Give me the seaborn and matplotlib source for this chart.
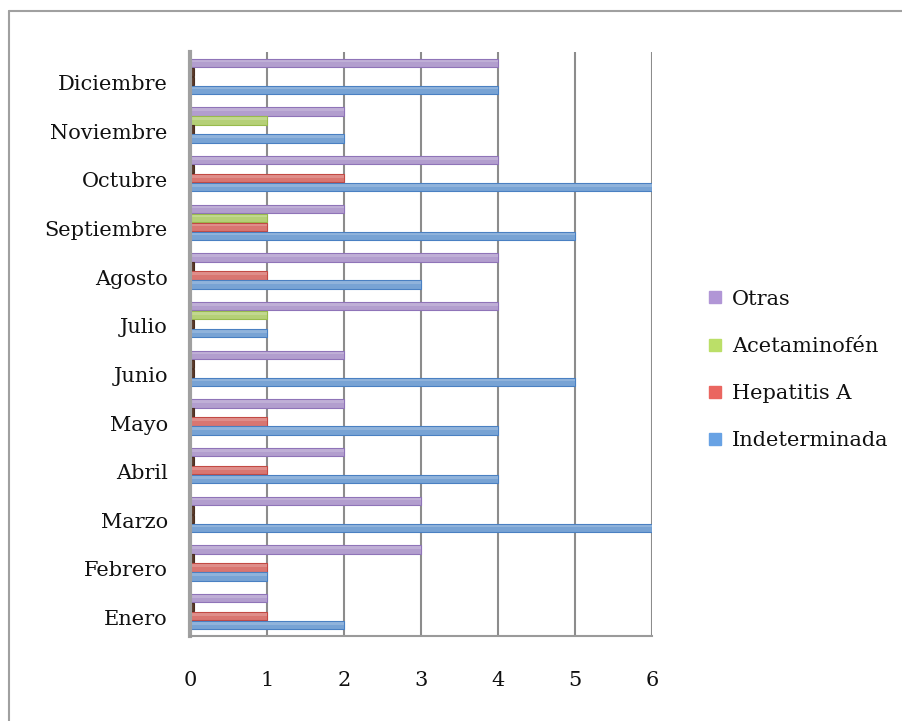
import matplotlib
matplotlib.use("Agg")
import matplotlib.pyplot as plt
import matplotlib.transforms as mtransforms
from matplotlib.lines import Line2D
from matplotlib.patches import Rectangle
import numpy as np
import pandas as pd
import seaborn as sns

meses = ["Enero", "Febrero", "Marzo", "Abril", "Mayo", "Junio", "Julio",
         "Agosto", "Septiembre", "Octubre", "Noviembre", "Diciembre"]
indeterminada = [2, 1, 6, 4, 4, 5, 1, 3, 5, 6, 2, 4]
hepatitis_a = [1, 1, 0, 1, 1, 0, 0, 1, 1, 2, 0, 0]
acetaminofen = [0, 0, 0, 0, 0, 0, 1, 0, 1, 0, 1, 0]
otras = [1, 3, 3, 2, 2, 2, 4, 4, 2, 4, 2, 4]
x_ticks = [0, 1, 2, 3, 4, 5, 6]

series = {
    "Otras": otras,
    "Acetaminofén": acetaminofen,
    "Hepatitis A": hepatitis_a,
    "Indeterminada": indeterminada,
}
colores = {
    "Otras": "#b196d6",
    "Acetaminofén": "#bbdf68",
    "Hepatitis A": "#ea6660",
    "Indeterminada": "#68a2e4",
}
bordes = {
    "Otras": "#8f74b8",
    "Acetaminofén": "#98bb4c",
    "Hepatitis A": "#c24a44",
    "Indeterminada": "#4a80c2",
}

df = pd.DataFrame(
    [(m, s, v) for s, vals in series.items() for m, v in zip(meses, vals)],
    columns=["Mes", "Causa", "Casos"],
)

sns.set_style("white")
plt.rcParams["font.family"] = ["DejaVu Serif"]

fig = plt.figure(figsize=(9.02, 7.21), dpi=100)
ax = fig.add_axes([190 / 902, 1 - 636 / 721, (652 - 190) / 902, (636 - 52) / 721])

hue_order = list(series.keys())
sns.barplot(
    data=df, y="Mes", x="Casos", hue="Causa", order=meses[::-1],
    hue_order=hue_order, palette=colores, orient="h", width=0.74,
    gap=0.04, ax=ax, legend=False, linewidth=0,
)

# soft outline and a light upper sheen on each bar; zero values become a
# dark stub against the wall
n = len(meses)
for i, causa in enumerate(hue_order):
    for patch in ax.containers[i]:
        patch.set_edgecolor(bordes[causa])
        patch.set_linewidth(0.8)
        if patch.get_width() == 0:
            patch.set_width(0.05)
            patch.set_facecolor("#5a3a2a")
            patch.set_edgecolor("#4a2e20")
            continue
        x0, y0 = patch.get_x(), patch.get_y()
        w, h = patch.get_width(), patch.get_height()
        ax.add_patch(Rectangle((x0, y0 + h * 0.15), w, h * 0.3,
                               facecolor="white", alpha=0.18, lw=0, zorder=patch.get_zorder() + 0.1))

ax.set_xlim(0, 6)
ax.set_ylim(n - 0.5, -0.5)
ax.set_xticks(x_ticks)
ax.set_xticklabels([str(t) for t in x_ticks])
ax.set_xlabel("")
ax.set_ylabel("")

# vertical gridlines
for t in x_ticks[1:]:
    ax.axvline(t, color="#8c8c8c", lw=1.5, zorder=0)

for side in ["top", "right"]:
    ax.spines[side].set_visible(False)
ax.spines["left"].set_color("#a0a0a0")
ax.spines["left"].set_linewidth(3)
ax.spines["bottom"].set_color("#9a9a9a")
ax.spines["bottom"].set_linewidth(1.5)

ax.tick_params(axis="x", which="major", length=6, width=1.2, color="#9a9a9a",
               direction="out", pad=19, labelsize=15, labelcolor="#111111")
ax.tick_params(axis="y", which="major", length=0, pad=16, labelsize=15,
               labelcolor="#111111")
ax.set_yticks(np.arange(-0.5, n, 1.0), minor=True)
ax.tick_params(axis="y", which="minor", length=7, width=1.2, color="#9a9a9a",
               direction="out")

offset = mtransforms.ScaledTranslation(0, -6 / 100, fig.dpi_scale_trans)
for lbl in ax.get_yticklabels():
    lbl.set_transform(lbl.get_transform() + offset)

# legend
handles = [Line2D([0], [0], marker="s", color="none", markerfacecolor=colores[c],
                  markeredgecolor=colores[c], markersize=8, label=c)
           for c in hue_order]
fig.legend(handles=handles, loc="center left", bbox_to_anchor=(0.765, 0.487),
           frameon=False, fontsize=15, handlelength=0.6, handletextpad=0.5,
           labelspacing=1.35, labelcolor="#111111")

# chart area border
fig.add_artist(Line2D([9 / 902, 9 / 902], [0, 1 - 11 / 721], color="#a0a0a0", lw=1.5))
fig.add_artist(Line2D([9 / 902, 1], [1 - 11 / 721, 1 - 11 / 721], color="#a0a0a0", lw=1.5))

fig.savefig("out.png", dpi=100, facecolor="white")
